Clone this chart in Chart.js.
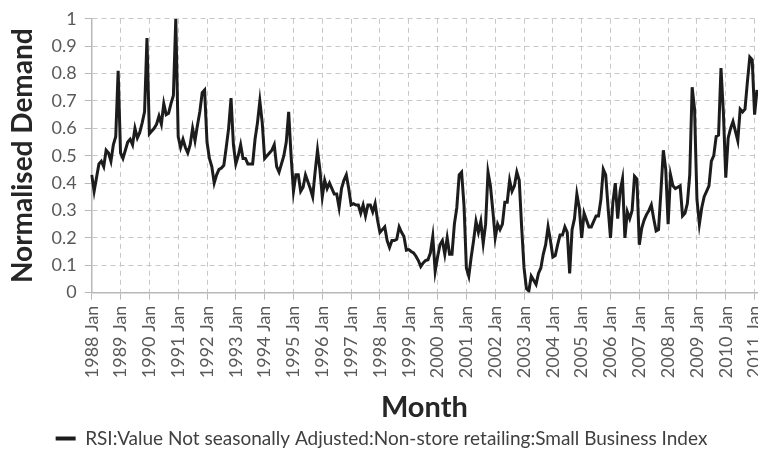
<!DOCTYPE html>
<html>
<head>
<meta charset="utf-8">
<script src="https://cdn.jsdelivr.net/npm/chart.js@4.4.0/dist/chart.umd.min.js"></script>
<style>
  html, body { margin: 0; padding: 0; background: #fff; }
  #wrap { width: 758px; height: 450px; }
</style>
</head>
<body>
<div id="wrap"><canvas id="demand" width="758" height="450"></canvas></div>
<script>
// monthly values, one array per year
const y1988 = [0.43, 0.37, 0.42, 0.47, 0.48, 0.46, 0.52, 0.51, 0.48, 0.54, 0.57, 0.81];
const y1989 = [0.51, 0.49, 0.52, 0.55, 0.56, 0.54, 0.60, 0.565, 0.585, 0.62, 0.66, 0.93];
const y1990 = [0.58, 0.59, 0.60, 0.615, 0.645, 0.615, 0.69, 0.65, 0.655, 0.69, 0.72, 1.0];
const y1991 = [0.57, 0.53, 0.56, 0.53, 0.51, 0.54, 0.60, 0.555, 0.61, 0.66, 0.73, 0.74];
const y1992 = [0.55, 0.49, 0.46, 0.40, 0.43, 0.45, 0.455, 0.465, 0.53, 0.60, 0.71, 0.54];
const y1993 = [0.47, 0.50, 0.54, 0.49, 0.49, 0.47, 0.47, 0.47, 0.56, 0.62, 0.70, 0.62];
const y1994 = [0.49, 0.50, 0.51, 0.52, 0.54, 0.46, 0.44, 0.47, 0.50, 0.55, 0.66, 0.50];
const y1995 = [0.37, 0.43, 0.43, 0.37, 0.385, 0.43, 0.405, 0.38, 0.35, 0.44, 0.52, 0.45];
const y1996 = [0.35, 0.41, 0.38, 0.40, 0.38, 0.36, 0.36, 0.31, 0.38, 0.41, 0.43, 0.38];
const y1997 = [0.32, 0.325, 0.32, 0.32, 0.29, 0.32, 0.28, 0.32, 0.32, 0.295, 0.325, 0.265];
const y1998 = [0.22, 0.23, 0.24, 0.19, 0.165, 0.19, 0.19, 0.195, 0.24, 0.22, 0.205, 0.155];
const y1999 = [0.157, 0.15, 0.145, 0.133, 0.117, 0.095, 0.108, 0.117, 0.12, 0.145, 0.205, 0.078];
const y2000 = [0.13, 0.175, 0.19, 0.14, 0.20, 0.14, 0.14, 0.25, 0.31, 0.43, 0.44, 0.32];
const y2001 = [0.09, 0.06, 0.13, 0.19, 0.26, 0.22, 0.26, 0.18, 0.25, 0.44, 0.39, 0.30];
const y2002 = [0.20, 0.25, 0.23, 0.25, 0.33, 0.33, 0.41, 0.37, 0.39, 0.44, 0.41, 0.24];
const y2003 = [0.09, 0.015, 0.006, 0.06, 0.045, 0.03, 0.07, 0.09, 0.14, 0.175, 0.24, 0.19];
const y2004 = [0.13, 0.135, 0.175, 0.21, 0.21, 0.24, 0.22, 0.07, 0.23, 0.27, 0.36, 0.31];
const y2005 = [0.20, 0.29, 0.265, 0.24, 0.24, 0.26, 0.28, 0.28, 0.34, 0.45, 0.43, 0.31];
const y2006 = [0.20, 0.33, 0.40, 0.27, 0.37, 0.415, 0.20, 0.295, 0.27, 0.30, 0.425, 0.415];
const y2007 = [0.175, 0.235, 0.265, 0.285, 0.30, 0.32, 0.27, 0.225, 0.23, 0.37, 0.52, 0.45];
const y2008 = [0.25, 0.43, 0.39, 0.38, 0.385, 0.39, 0.28, 0.29, 0.325, 0.43, 0.75, 0.67];
const y2009 = [0.34, 0.25, 0.31, 0.35, 0.37, 0.39, 0.48, 0.50, 0.57, 0.575, 0.82, 0.66];
const y2010 = [0.42, 0.565, 0.60, 0.625, 0.59, 0.555, 0.67, 0.66, 0.67, 0.77, 0.86, 0.85];
const y2011 = [0.65, 0.74];

const years = [1988, 1989, 1990, 1991, 1992, 1993, 1994, 1995, 1996, 1997, 1998, 1999,
               2000, 2001, 2002, 2003, 2004, 2005, 2006, 2007, 2008, 2009, 2010, 2011];
const monthNames = ['Jan', 'Feb', 'Mar', 'Apr', 'May', 'Jun', 'Jul', 'Aug', 'Sep', 'Oct', 'Nov', 'Dec'];
const seriesName = 'RSI:Value Not seasonally Adjusted:Non-store retailing:Small Business Index';

const byYear = [y1988, y1989, y1990, y1991, y1992, y1993, y1994, y1995, y1996, y1997, y1998, y1999,
                y2000, y2001, y2002, y2003, y2004, y2005, y2006, y2007, y2008, y2009, y2010, y2011];

let labels = [];
let values = [];
byYear.forEach((arr, i) => {
    arr.forEach((v, m) => {
        labels.push(`${years[i]} ${monthNames[m]}`);
        values.push(v);
    });
});

Chart.defaults.font.family = 'Lato, "Open Sans", sans-serif';
Chart.defaults.color = '#595959';

const gridGrey = '#c8c8c8';
const axisGrey = '#b8b8b8';

var ctx = document.getElementById('demand').getContext('2d');
new Chart(ctx, {
    type: 'line',
    data: {
        labels: labels,
        datasets: [{
            label: seriesName,
            data: values,
            borderColor: '#1c1c1c',
            backgroundColor: '#1c1c1c',
            borderWidth: 3,
            pointRadius: 0,
            tension: 0,
            fill: false
        }]
    },
    options: {
        responsive: false,
        animation: false,
        layout: {
            padding: { left: 6, right: 1, top: 4, bottom: -8 }
        },
        plugins: {
            tooltip: { enabled: false },
            legend: {
                position: 'bottom',
                labels: {
                    color: '#404040',
                    font: { size: 19 },
                    boxWidth: 20,
                    boxHeight: 4,
                    padding: 4,
                    generateLabels: chart => Chart.defaults.plugins.legend.labels.generateLabels(chart)
                        .map(l => Object.assign(l, { lineWidth: 0, fillStyle: '#1c1c1c' }))
                }
            }
        },
        scales: {
            x: {
                offset: false,
                // let the plot run to the canvas edge, the last label gets cut like in the original
                afterFit: scale => { scale.paddingRight = 0; },
                grid: {
                    color: gridGrey,
                    tickColor: axisGrey,
                    lineWidth: 1,
                    tickLength: 7,
                    tickBorderDash: []
                },
                border: { color: axisGrey, width: 1.5, dash: [5, 4] },
                ticks: {
                    autoSkip: false,
                    maxRotation: 90,
                    minRotation: 90,
                    padding: 6,
                    font: { size: 18 },
                    color: '#595959',
                    // only January gets a tick (and a grid line)
                    callback: function (value, index) {
                        return index % 12 === 0 ? this.getLabelForValue(value) : null;
                    }
                },
                title: {
                    display: true,
                    text: 'Month',
                    color: '#262626',
                    font: { size: 29, weight: 'bold' },
                    padding: { top: 6, bottom: 0 }
                }
            },
            y: {
                min: 0,
                max: 1,
                grid: {
                    color: gridGrey,
                    tickColor: axisGrey,
                    lineWidth: 1,
                    tickLength: 7,
                    tickBorderDash: []
                },
                border: { color: axisGrey, width: 1.5, dash: [5, 4] },
                ticks: {
                    stepSize: 0.1,
                    padding: 8,
                    font: { size: 18 },
                    color: '#595959',
                    callback: v => String(Number(v.toFixed(1)))
                },
                title: {
                    display: true,
                    text: 'Normalised Demand',
                    color: '#262626',
                    font: { size: 28, weight: 'bold' },
                    padding: { top: 0, bottom: 4 }
                }
            }
        }
    }
});
</script>
</body>
</html>
